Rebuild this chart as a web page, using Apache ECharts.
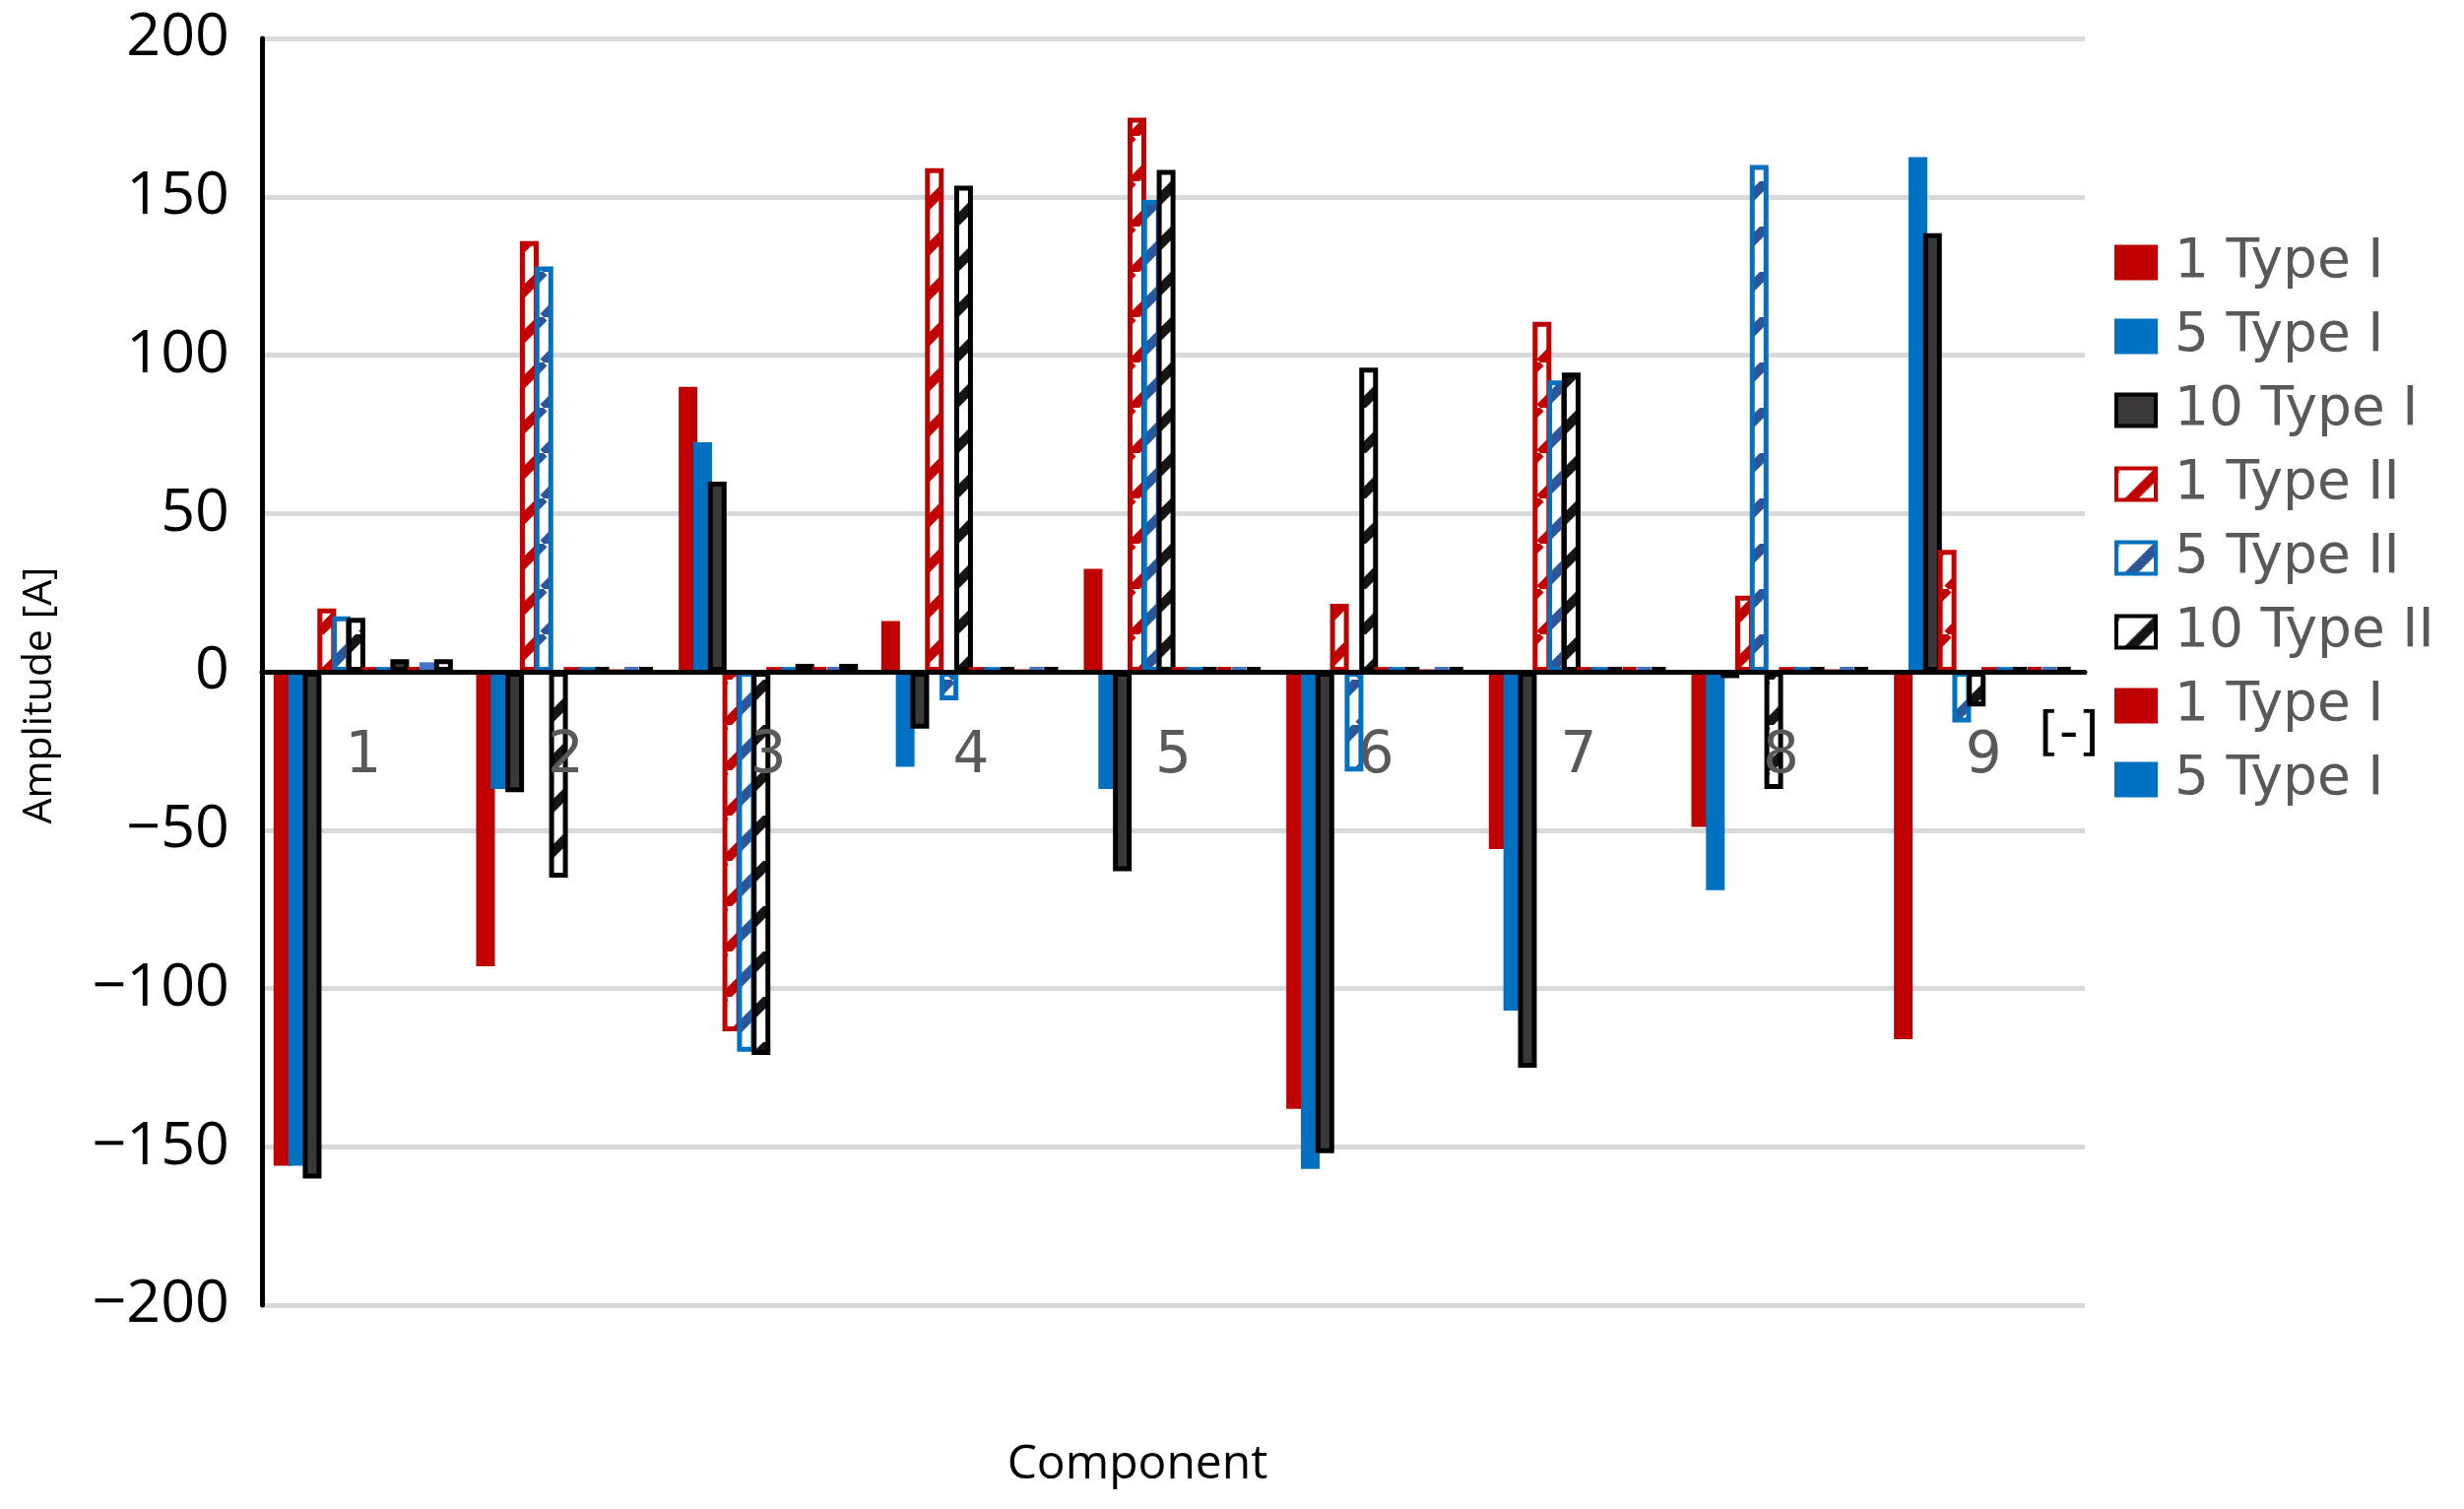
<!DOCTYPE html>
<html>
<head>
<meta charset="utf-8">
<script src="https://cdn.jsdelivr.net/npm/echarts@6/dist/echarts.min.js"></script>
<style>
html,body{margin:0;padding:0;background:#fff;}
#main{width:2502px;height:1532px;}
</style>
</head>
<body>
<div id="main"></div>
<script>
// ---- data ----
const categories = ['1','2','3','4','5','6','7','8','9'];
const seriesNames = ['1 Type I','5 Type I','10 Type I','1 Type II','5 Type II','10 Type II',
                     '1 Type I ','5 Type I ','10 Type I ','1 Type II ','5 Type II ','10 Type II '];
const yTicks = [-200,-150,-100,-50,0,50,100,150,200];

const v1TypeI   = [-156, -93, 90, 16, 32.5, -138, -56, -49, -116];
const v5TypeI   = [-156, -37, 72.5, -30, -37, -157, -107, -69, 162.5];
const v10TypeI  = [-160, -38, 60, -18, -63, -152, -125, -2, 138.5];
const v1TypeII  = [20, 136, -113.5, 159, 175, 21.5, 110.5, 24, 38.5];
const v5TypeII  = [17.5, 128, -120, -9, 149, -31.5, 92, 160, -16];
const v10TypeII = [17, -65, -121, 153.5, 158.5, 96, 94.5, -37, -11];
const w1TypeI   = [1.5, 1.5, 1.5, 1.5, 1.5, 1.5, 1.5, 1.5, 1.5];
const w5TypeI   = [1.5, 1.5, 1.5, 1.5, 1.5, 1.5, 1.5, 1.5, 1.5];
const w10TypeI  = [4, 1.5, 2.5, 1.5, 1.5, 1.5, 1.5, 1.5, 1.5];
const w1TypeII  = [1.5, 0, 1.5, 0, 1.5, 0, 1.5, 0, 1.5];
const w5TypeII  = [3, 1.5, 1.5, 1.5, 1.5, 1.5, 1.5, 1.5, 1.5];
const w10TypeII = [4, 1.5, 2.5, 1.5, 1.5, 1.5, 1.5, 1.5, 1.5];

const allValues = [v1TypeI, v5TypeI, v10TypeI, v1TypeII, v5TypeII, v10TypeII,
                   w1TypeI, w5TypeI, w10TypeI, w1TypeII, w5TypeII, w10TypeII];

// ---- styles ----
function hatch(stripe){
  const P = 46;
  const c = document.createElement('canvas');
  c.width = P; c.height = P;
  const g = c.getContext('2d');
  g.fillStyle = '#ffffff'; g.fillRect(0,0,P,P);
  g.strokeStyle = stripe; g.lineWidth = 10;
  for (const k of [-1,0,1]) {
    g.beginPath(); g.moveTo(k*P, P); g.lineTo(k*P+P, 0); g.stroke();
  }
  return {image: c, repeat: 'repeat'};
}
const RED = '#C00000', BLUE = '#0070C0', DARK = '#3B3838';
const styles = [
  {color: RED, borderColor: RED, borderWidth: 0},
  {color: BLUE, borderColor: BLUE, borderWidth: 0},
  {color: DARK, borderColor: '#000000', borderWidth: 5},
  {color: hatch(RED), borderColor: RED, borderWidth: 5},
  {color: hatch('#2F5597'), borderColor: BLUE, borderWidth: 5},
  {color: hatch('#161616'), borderColor: '#000000', borderWidth: 5},
  {color: RED, borderColor: RED, borderWidth: 0},
  {color: BLUE, borderColor: BLUE, borderWidth: 0},
  {color: DARK, borderColor: '#000000', borderWidth: 5},
  {color: hatch(RED), borderColor: RED, borderWidth: 5},
  {color: hatch('#4472C4'), borderColor: '#4472C4', borderWidth: 5},
  {color: hatch('#161616'), borderColor: '#000000', borderWidth: 5}
];

const series = seriesNames.map((n, i) => ({
  name: n,
  type: 'bar',
  data: allValues[i],
  barWidth: 19,
  barGap: '-22%',
  itemStyle: styles[i],
  emphasis: {disabled: true}
}));

const chart = echarts.init(document.getElementById('main'), null, {renderer: 'canvas'});
chart.setOption({
  animation: false,
  backgroundColor: '#ffffff',
  grid: {left: 266, right: 385, top: 39, bottom: 207, containLabel: false},
  title: {
    text: 'Component', left: 1150, top: 1458, textAlign: 'center',
    textStyle: {fontFamily: 'Open Sans', fontSize: 48, fontWeight: 'normal', color: '#000'}
  },
  graphic: {
    elements: [{
      type: 'text',
      x: 40, y: 706,
      rotation: Math.PI / 2,
      z: 10,
      style: {
        text: 'Amplitude [A]',
        fontSize: 41,
        fontFamily: 'Open Sans',
        fill: '#000',
        align: 'center',
        verticalAlign: 'middle'
      }
    }]
  },
  legend: {
    orient: 'vertical',
    icon: 'rect',
    left: 2142, top: 234,
    itemWidth: 40, itemHeight: 32, itemGap: 20,
    data: seriesNames.slice(0, 8),
    itemStyle: {borderWidth: 4},
    textStyle: {fontFamily: 'DejaVu Sans', fontSize: 55, lineHeight: 55, color: '#595959', padding: [0,0,0,14]},
    selectedMode: false
  },
  xAxis: {
    type: 'category',
    data: categories,
    z: 5,
    name: '[-]',
    nameLocation: 'end',
    nameGap: -47,
    nameTextStyle: {fontFamily: 'DejaVu Sans', fontSize: 54, color: '#000', align: 'left', verticalAlign: 'top', padding: [38,0,0,0]},
    axisLine: {onZero: true, lineStyle: {color: '#000', width: 5}},
    axisTick: {show: false},
    axisLabel: {fontFamily: 'DejaVu Sans', fontSize: 58, color: '#595959', margin: -585},
    splitLine: {show: false}
  },
  yAxis: {
    type: 'value',
    min: -200, max: 200, interval: 50,
    axisLine: {show: true, lineStyle: {color: '#000', width: 5}},
    axisTick: {show: false},
    axisLabel: {
      fontFamily: 'Open Sans', fontSize: 61, color: '#000', margin: 33,
      formatter: v => (yTicks.includes(v) ? (v < 0 ? '\u2212' + Math.abs(v) : String(v)) : '')
    },
    splitLine: {show: true, lineStyle: {color: '#D9D9D9', width: 5}}
  },
  series: series
});
</script>
</body>
</html>
